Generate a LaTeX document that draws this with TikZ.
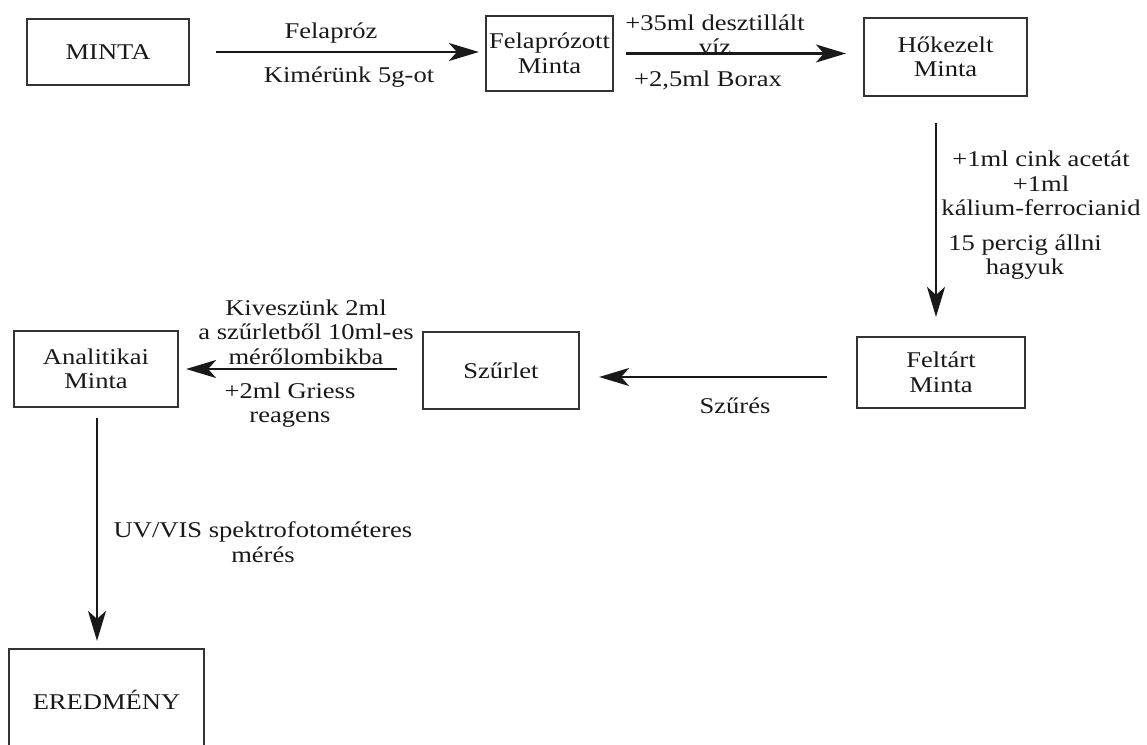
\documentclass[tikz,border=0pt]{standalone}
\usepackage{fontspec}
\setmainfont[FakeStretch=1.18]{Liberation Serif}
\usetikzlibrary{arrows.meta}
\begin{document}
\begin{tikzpicture}[x=1pt,y=1pt,
  every node/.style={font=\fontsize{22.5}{24.5}\selectfont, text=black!90, inner sep=0pt, align=center},
  box/.style={draw=black!80, line width=2.2pt},
  arr/.style={draw=black!90, line width=2.2pt, -{Stealth[length=30pt,width=18pt,inset=8pt]}},
  lbl/.style={}]
\useasboundingbox (0,0) rectangle (1147,-744);
\clip (0,0) rectangle (1147,-744);
% boxes
\node[box, minimum width=162pt, minimum height=66pt] (minta) at (108,-52) {MINTA};
\node[box, minimum width=127pt, minimum height=75pt] (fel) at (549.5,-53.5) {Felaprózott\\Minta};
\node[box, minimum width=163pt, minimum height=78pt] (hok) at (945.5,-57) {Hőkezelt\\Minta};
\node[box, minimum width=168pt, minimum height=71pt] (felt) at (941,-372.5) {Feltárt\\Minta};
\node[box, minimum width=156pt, minimum height=77pt] (szur) at (501,-370.5) {Szűrlet};
\node[box, minimum width=164pt, minimum height=76pt] (anal) at (96,-369) {Analitikai\\Minta};
\node[box, minimum width=195pt, minimum height=102pt] (ered) at (106.5,-700) {EREDMÉNY};
% connectors
\draw[arr] ([xshift=26pt]minta.east) -- ([xshift=-6pt]fel.west |- minta.east);
\draw[arr] ([xshift=12pt]fel.east) -- ([xshift=-17pt]hok.west |- fel.east);
\draw[arr] ([xshift=-9.5pt,yshift=-26pt]hok.south) -- ([xshift=-9.5pt,yshift=19pt]hok.south |- felt.north);
\draw[arr] ([xshift=-29pt,yshift=-4.5pt]felt.west) -- ([xshift=19pt,yshift=-6.5pt]szur.east);
\draw[arr] ([xshift=-25pt,yshift=1.5pt]szur.west) -- ([xshift=7pt]anal.east);
\draw[arr] ([xshift=1pt,yshift=-10pt]anal.south) -- ([xshift=-9.5pt,yshift=7pt]ered.north);
% labels
\node[lbl] (l1) at (331,-33) {Felapróz};
\node[lbl] (l2) at (349,-77) {Kimérünk 5g-ot};
\node[lbl] (l3) at (715,-35) {+35ml desztillált\\víz};
\node[lbl] (l4) at (708,-80) {+2,5ml Borax};
\node[lbl] (l5) at (1041,-183.5) {+1ml cink acetát\\+1ml\\kálium-ferrocianid};
\node[lbl] (l6) at (1025,-257) {15 percig állni\\hagyuk};
\node[lbl] (l7) at (735,-406) {Szűrés};
\node[lbl] (l8) at (306,-332) {Kiveszünk 2ml\\a szűrletből 10ml-es\\mérőlombikba};
\node[lbl] (l9) at (290,-405) {+2ml Griess\\reagens};
\node[lbl] (l10) at (263,-542) {UV/VIS spektrofotométeres\\mérés};
\end{tikzpicture}
\end{document}
